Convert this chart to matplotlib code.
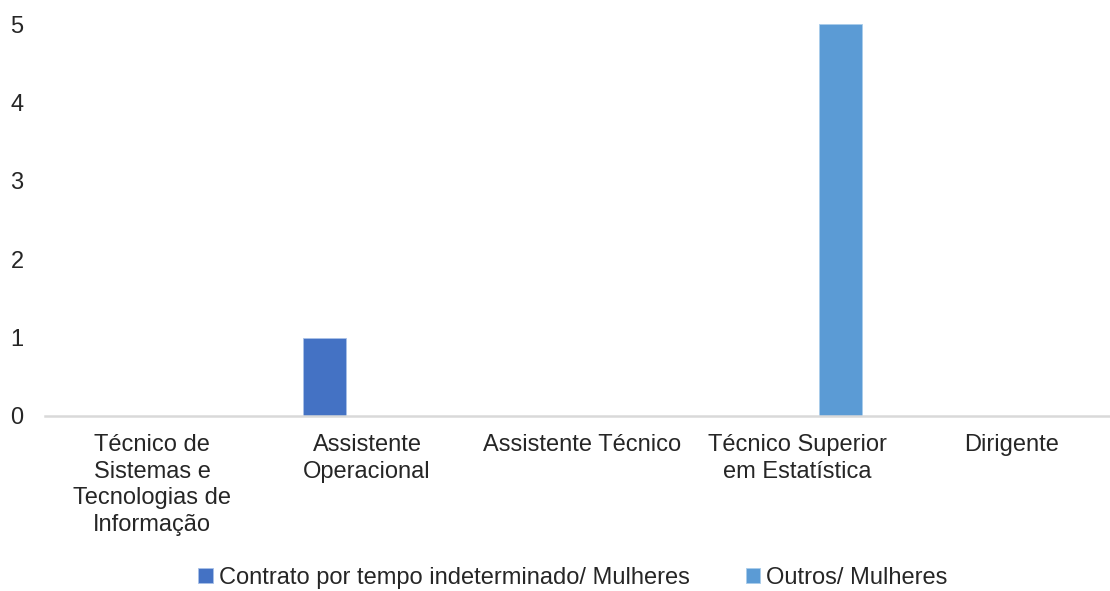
import matplotlib
matplotlib.use("Agg")
import matplotlib.pyplot as plt
import numpy as np

categories = ["Técnico de\nSistemas e\nTecnologias de\nInformação",
              "Assistente\nOperacional",
              "Assistente Técnico",
              "Técnico Superior\nem Estatística",
              "Dirigente"]
series_names = ["Contrato por tempo indeterminado/ Mulheres", "Outros/ Mulheres"]
contrato_mulheres = [0, 1, 0, 0, 0]
outros_mulheres = [0, 0, 0, 5, 0]
colors = ["#4472C4", "#5B9BD5"]

plt.rcParams['font.family'] = ['Liberation Sans', 'DejaVu Sans']

fig = plt.figure(figsize=(11.10, 5.91), dpi=100)
W, H = 1110, 591
ax = fig.add_axes([44.5 / W, (H - 416) / H, 1075 / W, (416 - 24.3) / H])

x = np.arange(len(categories))
w = 0.2
ax.bar(x - w, contrato_mulheres, w, color=colors[0], label=series_names[0],
       edgecolor="#A9C1E8", linewidth=0.6)
ax.bar(x + w, outros_mulheres, w, color=colors[1], label=series_names[1],
       edgecolor="#A9CCEB", linewidth=0.6)

ax.set_xlim(-0.5, len(categories) - 0.5)
ax.set_ylim(0, 5)
ax.set_yticks(range(0, 6))
ax.set_xticks(x)
ax.set_xticklabels(categories, fontsize=17, color="#262626", linespacing=1.27)
ax.tick_params(axis='y', labelsize=17, labelcolor="#262626", length=0, pad=15)
ax.tick_params(axis='x', length=0, pad=13)
for s in ["top", "right", "left"]:
    ax.spines[s].set_visible(False)
ax.spines["bottom"].set_color("#D9D9D9")
ax.spines["bottom"].set_linewidth(1.8)

leg = fig.legend(loc="center", bbox_to_anchor=(573 / W, 1 - 578 / H), ncol=2, frameon=False,
                 fontsize=17, handlelength=0.6, handleheight=0.6, handletextpad=0.25,
                 columnspacing=2.4, labelcolor="#262626")

fig.savefig("out.png", dpi=100)
